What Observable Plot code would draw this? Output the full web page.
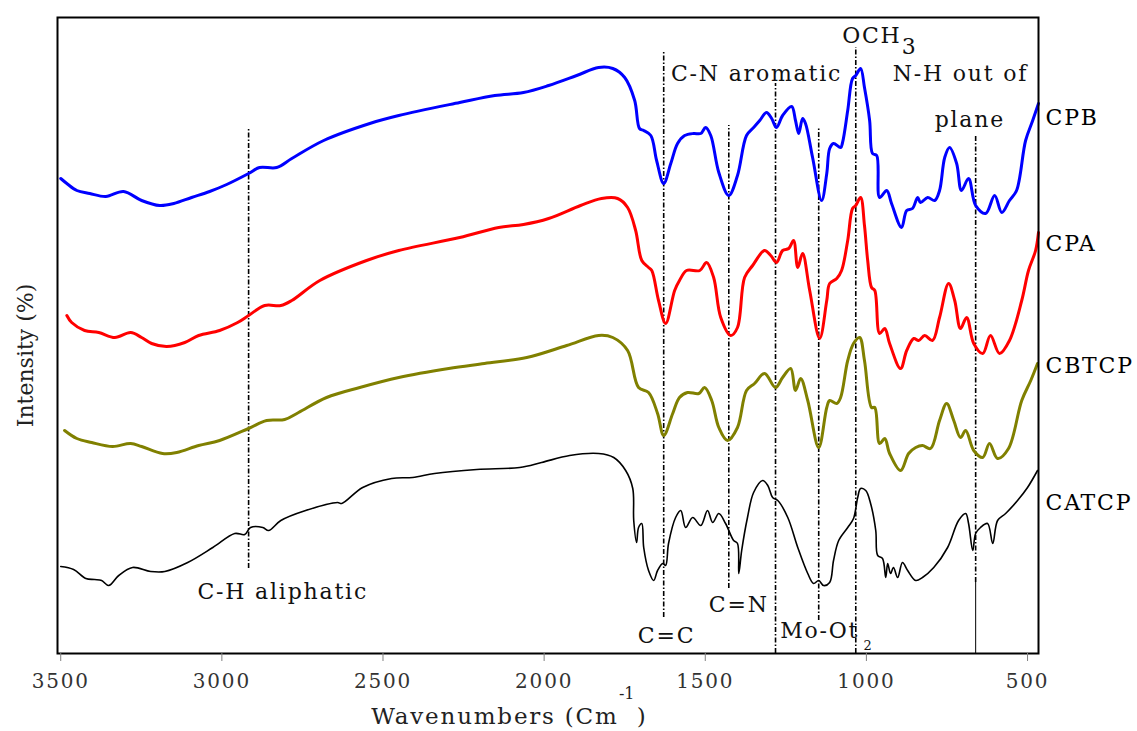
<!DOCTYPE html>
<html><head><meta charset="utf-8">
<script src="https://cdn.jsdelivr.net/npm/d3@7"></script>
<script src="https://cdn.jsdelivr.net/npm/@observablehq/plot@0.6"></script>
<style>
body{margin:0;background:#fff}
#chart svg text{letter-spacing:1.8px}
</style>
</head><body><div id="chart"></div>
<script>
// Spectra: [wavenumber (cm-1), intensity (arbitrary %, offset)]
const CPB = [[3500,95.0],[3481,94.0],[3450,92.6],[3410,92.0],[3360,91.4],[3305,92.4],[3249,90.6],[3193,89.6],[3149,90.0],[3094,91.2],[3038,92.4],[2985,93.8],[2917,96.0],[2883,97.2],[2830,97.2],[2783,99.0],[2684,102.6],[2541,106.0],[2451,107.6],[2262,110.2],[2153,111.6],[2064,112.2],[1986,113.6],[1899,115.6],[1831,117.2],[1787,117.0],[1750,115.2],[1719,110.6],[1704,105.0],[1691,104.6],[1669,103.6],[1651,98.6],[1629,94.0],[1607,98.0],[1586,102.0],[1564,103.6],[1536,104.0],[1514,104.0],[1499,105.2],[1483,103.6],[1458,96.2],[1427,91.6],[1400,95.6],[1372,103.6],[1350,105.2],[1331,106.6],[1310,108.2],[1294,107.0],[1279,105.2],[1260,107.6],[1232,109.4],[1220,106.6],[1210,104.0],[1198,107.0],[1189,106.0],[1167,99.2],[1139,90.6],[1123,96.0],[1114,101.0],[1102,102.0],[1080,101.2],[1074,102.2],[1058,108.6],[1043,115.0],[1033,115.6],[1018,117.0],[1006,113.2],[990,106.6],[981,100.0],[968,99.6],[959,91.2],[937,92.6],[922,90.0],[891,85.2],[875,88.6],[857,89.0],[841,91.2],[832,90.2],[810,91.2],[788,90.6],[773,92.6],[757,99.2],[742,101.2],[720,98.0],[705,92.6],[683,95.0],[661,89.6],[630,88.0],[602,91.6],[580,88.2],[556,90.6],[534,92.6],[506,102.6],[484,106.6],[466,110.0]];
const CPA = [[3481,67.6],[3466,66.2],[3426,64.6],[3382,64.2],[3332,63.2],[3283,64.2],[3249,63.2],[3218,62.0],[3171,61.4],[3115,62.2],[3072,63.6],[3007,64.6],[2951,66.2],[2917,67.6],[2867,69.6],[2817,69.6],[2783,70.6],[2696,74.6],[2551,78.6],[2451,80.6],[2262,83.2],[2141,85.2],[2064,85.8],[1986,87.0],[1887,89.6],[1822,91.0],[1772,91.0],[1741,89.2],[1716,84.6],[1697,78.6],[1676,77.2],[1666,76.6],[1645,70.6],[1623,66.0],[1595,72.6],[1580,74.6],[1558,76.6],[1517,76.6],[1496,78.2],[1474,75.2],[1452,67.2],[1421,63.6],[1400,65.2],[1378,75.2],[1353,77.6],[1316,80.6],[1297,79.6],[1279,78.2],[1260,80.6],[1241,81.0],[1226,82.6],[1213,77.2],[1198,80.0],[1176,72.6],[1145,63.0],[1123,70.6],[1114,74.0],[1092,75.0],[1077,76.6],[1058,82.6],[1043,89.0],[1033,89.6],[1018,91.2],[1006,85.6],[996,78.6],[984,73.2],[974,72.6],[959,64.0],[943,65.0],[928,62.0],[894,57.0],[875,60.6],[853,63.0],[838,62.6],[819,63.6],[795,62.6],[773,67.2],[745,74.0],[726,70.6],[708,65.0],[689,67.2],[667,62.0],[639,60.0],[615,63.6],[587,60.0],[556,62.6],[518,70.6],[497,76.6],[475,80.6],[466,84.2]];
const CBTCP = [[3488,44.6],[3450,43.0],[3404,42.2],[3339,41.4],[3283,42.0],[3249,41.4],[3184,40.0],[3140,40.2],[3072,41.6],[3007,42.6],[2917,45.0],[2861,46.6],[2805,46.8],[2762,48.2],[2675,51.2],[2572,53.2],[2451,55.2],[2296,57.0],[2185,58.0],[2054,59.2],[1930,61.6],[1831,63.6],[1787,63.2],[1741,60.6],[1707,53.2],[1676,52.2],[1648,48.0],[1629,43.6],[1601,48.0],[1580,51.2],[1555,52.2],[1520,52.0],[1502,53.2],[1480,50.6],[1458,45.2],[1431,42.6],[1400,45.2],[1372,52.6],[1347,54.0],[1316,56.0],[1282,53.2],[1260,55.2],[1235,57.0],[1220,52.6],[1204,55.0],[1182,50.6],[1148,41.2],[1123,49.2],[1114,50.6],[1092,50.0],[1080,51.2],[1058,58.6],[1040,62.0],[1021,63.2],[1006,58.6],[984,49.2],[974,49.2],[959,42.0],[943,43.0],[928,40.0],[894,36.6],[869,40.0],[847,41.2],[826,41.6],[801,41.0],[773,46.6],[751,50.0],[729,46.6],[708,43.2],[692,44.6],[667,40.6],[639,39.2],[618,42.0],[593,39.0],[559,41.0],[518,50.6],[490,54.6],[469,58.0]];
const CATCP = [[3500,17.4],[3460,16.8],[3422,15.0],[3395,14.8],[3373,14.6],[3351,13.6],[3320,15.6],[3277,17.2],[3221,16.4],[3177,16.4],[3106,18.2],[3028,21.2],[2960,24.0],[2929,23.8],[2911,25.2],[2873,25.2],[2855,24.6],[2817,26.6],[2740,28.6],[2641,30.2],[2628,30.0],[2563,33.2],[2473,35.0],[2408,35.2],[2340,36.0],[2209,36.8],[2076,37.2],[2008,38.2],[1921,39.6],[1831,40.0],[1784,39.2],[1747,36.6],[1725,33.0],[1722,26.6],[1713,22.2],[1707,25.2],[1697,26.0],[1691,21.2],[1676,16.6],[1660,14.6],[1648,16.6],[1632,18.0],[1623,17.6],[1614,22.0],[1592,27.2],[1576,28.6],[1561,25.2],[1539,27.2],[1514,25.6],[1493,28.6],[1477,26.2],[1458,28.0],[1437,26.0],[1412,22.6],[1400,22.0],[1396,16.0],[1387,20.6],[1369,27.2],[1350,32.2],[1322,34.6],[1306,33.6],[1291,31.2],[1275,30.6],[1244,27.2],[1213,21.2],[1182,16.0],[1164,14.0],[1148,14.6],[1133,13.6],[1114,14.2],[1102,18.6],[1086,22.6],[1058,25.2],[1040,27.0],[1027,31.2],[1018,33.0],[1002,32.6],[987,30.0],[971,24.6],[965,19.6],[950,19.0],[940,15.2],[934,18.0],[925,16.0],[916,17.2],[903,15.2],[888,18.2],[872,16.6],[847,14.6],[826,15.2],[791,17.2],[748,21.2],[714,26.6],[692,28.0],[683,26.0],[670,20.6],[661,24.0],[646,25.2],[624,26.0],[608,22.0],[593,26.6],[568,28.0],[531,30.6],[500,33.2],[469,36.6]];

const seriesNames = ["CPB", "CPA", "CBTCP", "CATCP"];
const seriesColors = ["#0000ff", "#ff0000", "#808000", "#000000"];
const seriesLabelY = [107.2, 82.0, 57.6, 30.2];

// band assignment lines: wavenumber, top and bottom intensity
const bandWn = [2917, 1629, 1427, 1282, 1148, 1033, 661];
const bandTop = [105.0, 120.6, 105.6, 114.0, 105.2, 121.2, 103.6];
const bandBottom = [17.0, 7.2, 13.0, 0, 6.6, 0, 14.2];

const annotations = [
  {text: "C-H aliphatic", wn: 2811, i: 12.4},
  {text: "C-N aromatic", wn: 1341, i: 116.0},
  {text: "OCH", wn: 983, i: 123.6},
  {text: "N-H out of", wn: 708, i: 116.0},
  {text: "plane", wn: 679, i: 106.8},
  {text: "C=C", wn: 1620, i: 3.6},
  {text: "C=N", wn: 1396, i: 9.8},
  {text: "Mo-Ot", wn: 1145, i: 4.6}
];
const subscripts = [
  {text: "3", wn: 890, i: 121.4, size: 22},
  {text: "2", wn: 1009, i: 1.6, size: 13}
];
const xTicks = [3500, 3000, 2500, 2000, 1500, 1000, 500];

const rows = [];
[CPB, CPA, CBTCP, CATCP].forEach((s, k) => s.forEach(([wn, v]) => rows.push({series: seriesNames[k], wn, v})));
const bands = bandWn.map((wn, k) => ({wn, top: bandTop[k], bottom: bandBottom[k]}));
const seriesLabels = seriesNames.map((n, k) => ({text: n, wn: 466, i: seriesLabelY[k]}));

const chart = Plot.plot({
  width: 1137,
  height: 731,
  marginLeft: 57,
  marginRight: 99,
  marginTop: 17,
  marginBottom: 78,
  style: {fontFamily: "DejaVu Serif", background: "#fff", overflow: "visible"},
  x: {domain: [3510, 466]},
  y: {domain: [0, 127.2], axis: null},
  color: {domain: seriesNames, range: seriesColors},
  marks: [
    Plot.ruleX(bands, {x: "wn", y1: "bottom", y2: "top", stroke: "#000", strokeWidth: 1.6, strokeDasharray: "5,2,1.5,2"}),
    Plot.ruleX(bands.filter(d => d.wn === 661), {x: "wn", y1: 0, y2: "bottom", stroke: "#000", strokeWidth: 1}),
    Plot.line(rows.filter(d => d.series !== "CATCP"), {x: "wn", y: "v", z: "series", stroke: "series", strokeWidth: 3, strokeLinejoin: "round", curve: "catmull-rom"}),
    Plot.line(rows.filter(d => d.series === "CATCP"), {x: "wn", y: "v", stroke: "series", strokeWidth: 1.6, strokeLinejoin: "round", curve: "catmull-rom"}),
    Plot.frame({stroke: "#000", strokeWidth: 2}),
    Plot.axisX({ticks: xTicks, tickFormat: d => String(d), tickSize: 8, tickPadding: 12, fontSize: 20, stroke: "#808080", fill: "#333", label: null}),
    Plot.text(annotations, {x: "wn", y: "i", text: "text", fontSize: 22, fill: "#111", textAnchor: "middle"}),
    Plot.text(subscripts, {x: "wn", y: "i", text: "text", fontSize: "size", fill: "#111", textAnchor: "start"}),
    Plot.text(seriesLabels, {x: "wn", y: "i", text: "text", dx: 7, fontSize: 22, fill: "#000", textAnchor: "start"}),
    Plot.text(["Wavenumbers (Cm"], {x: 1769, y: -12.6, text: d => d, fontSize: 23, fill: "#222", textAnchor: "end"}),
    Plot.text(["-1"], {x: 1768, y: -8.0, text: d => d, fontSize: 16, fill: "#222", textAnchor: "start"}),
    Plot.text([")"], {x: 1713, y: -12.6, text: d => d, fontSize: 23, fill: "#222", textAnchor: "start"}),
    Plot.text(["Intensity (%)"], {x: 3609, y: 59.6, text: d => d, fontSize: 22, fill: "#222", rotate: -90, textAnchor: "middle"})
  ]
});
d3.select(chart).selectAll("text")
  .filter(function() { const t = this.textContent; return t === "Intensity (%)" || t === "-1" || t === "2" || t === "3"; })
  .style("letter-spacing", "0px");
document.getElementById("chart").appendChild(chart);
</script>
</body></html>
